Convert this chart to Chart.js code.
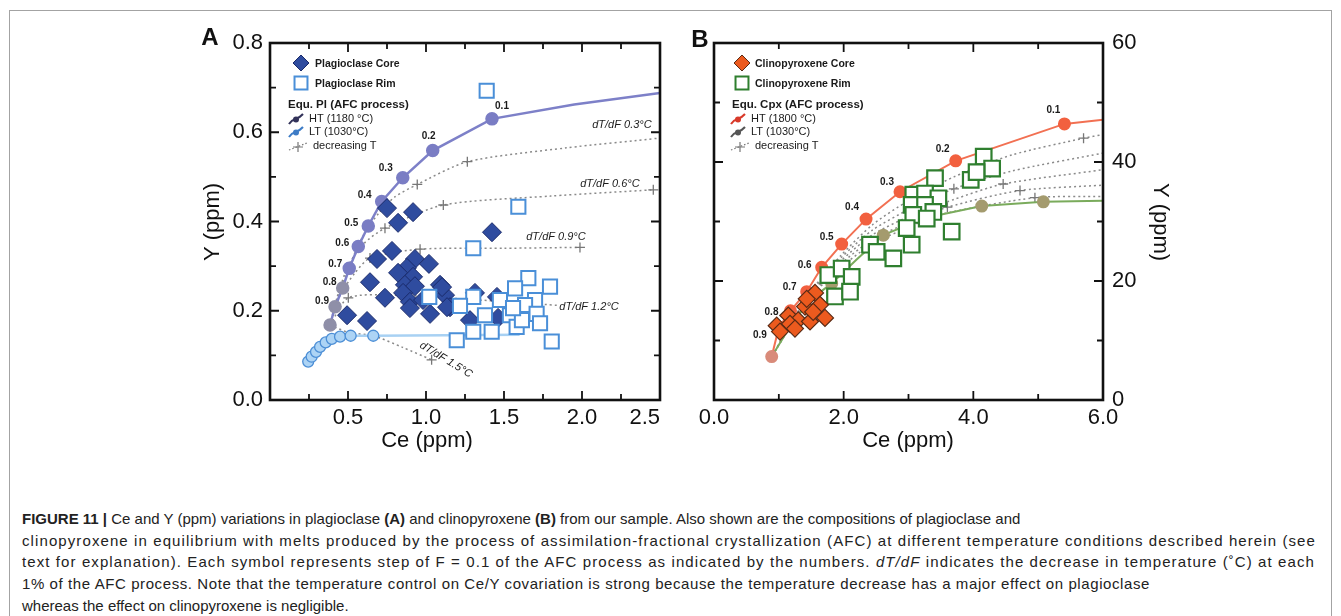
<!DOCTYPE html>
<html>
<head>
<meta charset="utf-8">
<script src="https://cdn.jsdelivr.net/npm/chart.js@4.4.0/dist/chart.umd.min.js"></script>
<style>
    body { margin: 0; background: #fff; width: 1341px; height: 616px; overflow: hidden; position: relative; font-family: "Liberation Sans", Arial, sans-serif; }
    #frame { position: absolute; left: 9px; top: 10px; width: 1321px; height: 640px; border: 1px solid #a3a3a3; }
    #chartA { position: absolute; left: 190px; top: 20px; }
    #chartB { position: absolute; left: 690px; top: 20px; }
    #caption { position: absolute; left: 22px; top: 508px; font-size: 15px; line-height: 21.7px; color: #222; white-space: nowrap; }
    #caption span { display: inline-block; }
</style>
</head>
<body>
<div id="frame"></div>
<canvas id="chartA" width="490" height="440"></canvas>
<canvas id="chartB" width="500" height="440"></canvas>
<div id="caption">
    <span><b>FIGURE 11 |</b> Ce and Y (ppm) variations in plagioclase <b>(A)</b> and clinopyroxene <b>(B)</b> from our sample. Also shown are the compositions of plagioclase and</span><br>
    <span data-w="1294">clinopyroxene in equilibrium with melts produced by the process of assimilation-fractional crystallization (AFC) at different temperature conditions described herein (see</span><br>
    <span data-w="1293">text for explanation). Each symbol represents step of F = 0.1 of the AFC process as indicated by the numbers. <i>dT/dF</i> indicates the decrease in temperature (˚C) at each</span><br>
    <span data-w="1128">1% of the AFC process. Note that the temperature control on Ce/Y covariation is strong because the temperature decrease has a major effect on plagioclase</span><br>
    <span>whereas the effect on clinopyroxene is negligible.</span>
</div>
<script>
// ---------- panel A : plagioclase (Ce, Y) ----------
const plCore = [
    [0.750, 0.430], [0.917, 0.421], [0.821, 0.397], [0.686, 0.316], [0.782, 0.334],
    [0.929, 0.316], [1.019, 0.305], [0.878, 0.296], [0.641, 0.264], [0.821, 0.285],
    [0.917, 0.276], [0.865, 0.258], [0.929, 0.255], [1.090, 0.258], [0.853, 0.240],
    [1.122, 0.235], [0.737, 0.229], [0.897, 0.220], [0.897, 0.206], [1.026, 0.193],
    [0.494, 0.190], [0.622, 0.177], [1.154, 0.208], [1.423, 0.376], [1.103, 0.253],
    [1.135, 0.208], [1.314, 0.240], [1.282, 0.179], [1.455, 0.231], [1.462, 0.184],
    [0.981, 0.224]
];
const plRim = [
    [1.389, 0.693], [1.592, 0.433], [1.303, 0.340], [1.656, 0.273], [1.795, 0.254],
    [1.571, 0.250], [1.303, 0.231], [1.474, 0.224], [1.699, 0.224], [1.218, 0.211],
    [1.635, 0.213], [1.378, 0.190], [1.538, 0.190], [1.709, 0.193], [1.581, 0.164],
    [1.731, 0.172], [1.303, 0.153], [1.421, 0.153], [1.197, 0.134], [1.806, 0.131],
    [1.021, 0.231], [1.615, 0.179], [1.558, 0.206]
];
// equilibrium melt, F = 1.0 ... 0.1 then on to the axis end
const plHT = [
    [0.385, 0.168], [0.417, 0.209], [0.466, 0.251], [0.508, 0.295], [0.566, 0.344],
    [0.630, 0.390], [0.716, 0.445], [0.851, 0.498], [1.043, 0.559], [1.423, 0.630],
    [1.950, 0.662], [2.500, 0.688]
];
const plLT = [
    [0.245, 0.086], [0.267, 0.097], [0.295, 0.108], [0.321, 0.119], [0.357, 0.129],
    [0.396, 0.137], [0.449, 0.142], [0.517, 0.144], [0.662, 0.144], [1.600, 0.146]
];
const plDec03 = [[0.385, 0.168], [0.44, 0.235], [0.52, 0.31], [0.60, 0.37], [0.70, 0.42], [0.80, 0.455], [0.944, 0.483], [1.265, 0.534], [1.90, 0.565], [2.50, 0.587]];
const plDec06 = [[0.385, 0.168], [0.43, 0.23], [0.50, 0.30], [0.60, 0.35], [0.737, 0.385], [1.111, 0.437], [1.80, 0.457], [2.457, 0.471]];
const plDec09 = [[0.385, 0.168], [0.45, 0.235], [0.545, 0.285], [0.641, 0.318], [0.962, 0.338], [1.50, 0.340], [1.987, 0.342]];
const plDec12 = [[0.385, 0.168], [0.502, 0.229], [0.80, 0.235], [1.30, 0.225], [1.85, 0.212]];
const plDec15 = [[0.385, 0.168], [0.50, 0.152], [0.662, 0.144], [0.85, 0.118], [1.036, 0.090]];
const plDecLabels = ['0.3°C', '0.6°C', '0.9°C', '1.2°C', '1.5°C'];
const plDecLabelAt = [[2.256, 0.616], [2.179, 0.484], [1.833, 0.365], [2.045, 0.208], [1.128, 0.090]];

// ---------- panel B : clinopyroxene (Ce, Y) ----------
const cpxCore = [
    [1.558, 18.0], [1.404, 15.7], [1.635, 16.0], [1.146, 14.2], [1.300, 13.4],
    [1.712, 13.8], [0.967, 12.5], [1.172, 12.8], [1.481, 13.2], [1.018, 11.5],
    [1.249, 12.0], [1.43, 17.0], [1.53, 14.8]
];
const cpxRim = [
    [3.409, 37.3], [3.074, 34.5], [3.255, 34.7], [3.461, 33.9], [3.049, 32.8],
    [3.255, 32.8], [3.383, 31.6], [3.074, 31.1], [3.281, 30.5], [2.972, 28.9],
    [3.049, 26.1], [3.666, 28.3], [2.406, 26.1], [2.509, 24.9], [2.766, 23.8],
    [1.763, 21.0], [1.969, 22.1], [2.124, 20.7], [1.866, 17.4], [2.098, 18.2],
    [4.16, 40.9], [4.29, 38.9], [3.96, 37.0], [4.05, 38.3]
];
const cpxHT = [
    [0.890, 7.3], [1.000, 12.2], [1.180, 15.0], [1.430, 18.2], [1.661, 22.3],
    [1.969, 26.2], [2.345, 30.4], [2.869, 35.0], [3.728, 40.2], [5.405, 46.4],
    [6.000, 47.1]
];
const cpxLT = [
    [0.89, 7.3], [1.20, 12.8], [1.50, 17.0], [1.815, 19.6], [2.20, 23.6],
    [2.612, 27.7], [3.25, 30.6], [4.13, 32.6], [5.08, 33.3], [6.00, 33.5]
];
const cpxDec1 = [[0.9, 7.5], [1.45, 17.6], [1.95, 24.2], [2.45, 29.5], [3.0, 33.5], [3.7, 37.5], [4.6, 41.2], [5.7, 44.0], [6.0, 44.6]];
const cpxDec2 = [[0.9, 7.5], [1.45, 17.4], [1.95, 23.8], [2.45, 28.6], [3.0, 32.0], [3.7, 35.5], [4.6, 38.5], [6.0, 41.5]];
const cpxDec3 = [[0.9, 7.5], [1.45, 17.2], [1.95, 23.3], [2.45, 27.8], [3.0, 30.8], [3.7, 33.7], [4.46, 36.3], [6.0, 38.7]];
const cpxDec4 = [[0.9, 7.5], [1.45, 17.0], [1.95, 22.8], [2.45, 27.0], [3.0, 29.8], [3.6, 32.4], [4.72, 35.2], [6.0, 36.1]];
const cpxDec5 = [[0.9, 7.5], [1.45, 16.8], [1.95, 22.2], [2.45, 26.3], [3.0, 29.0], [3.5, 31.2], [4.95, 34.0], [6.0, 34.2]];

const fSteps = ['0.9', '0.8', '0.7', '0.6', '0.5', '0.4', '0.3', '0.2', '0.1'];

// stretch caption lines to the widths they have in the figure
document.querySelectorAll('#caption span[data-w]').forEach(el => {
    let target = Number(el.dataset.w);
    let extra = target - el.getBoundingClientRect().width;
    el.style.letterSpacing = (extra / el.textContent.length) + 'px';
});

function pts(arr) {
    return arr.map(p => ({ x: p[0], y: p[1] }));
}

function dottedSet(arr, crossAt) {
    return {
        data: pts(arr),
        showLine: true,
        borderColor: '#8a8a8a',
        borderWidth: 1.5,
        borderDash: [2, 3],
        tension: 0.25,
        pointStyle: 'cross',
        pointRadius: arr.map((p, i) => crossAt.includes(i) ? 5 : 0),
        pointBorderColor: '#777',
        pointBorderWidth: 1.3,
        order: 20
    };
}

// frame and inward ticks on all four sides
const framePlugin = {
    id: 'frame',
    afterDraw(chart, args, opts) {
        const { ctx, chartArea: a, scales } = chart;
        const x = scales.x, y = scales.y;
        ctx.save();
        ctx.strokeStyle = '#111';
        ctx.lineWidth = 1.8;
        ctx.beginPath();
        for (let v = x.min + opts.xStep; v < x.max - 1e-6; v += opts.xStep) {
            let big = Math.abs(v / opts.xMajor - Math.round(v / opts.xMajor)) < 1e-6;
            let len = big ? 9 : 6;
            let px = x.getPixelForValue(v);
            ctx.moveTo(px, a.bottom); ctx.lineTo(px, a.bottom - len);
            ctx.moveTo(px, a.top); ctx.lineTo(px, a.top + len);
        }
        for (let v = y.min + opts.yStep; v < y.max - 1e-6; v += opts.yStep) {
            let big = Math.abs(v / opts.yMajor - Math.round(v / opts.yMajor)) < 1e-6;
            let len = big ? 9 : 6;
            let py = y.getPixelForValue(v);
            ctx.moveTo(a.left, py); ctx.lineTo(a.left + len, py);
            ctx.moveTo(a.right, py); ctx.lineTo(a.right - len, py);
        }
        ctx.stroke();
        ctx.lineWidth = 2.6;
        ctx.strokeRect(a.left, a.top, a.right - a.left, a.bottom - a.top);
        ctx.restore();
    }
};

// F step numbers, dT/dF notes, legend, axis titles, panel letter
const notesPlugin = {
    id: 'notes',
    afterDraw(chart, args, o) {
        const { ctx, chartArea: a, scales } = chart;
        ctx.save();
        ctx.fillStyle = '#1a1a1a';
        ctx.textBaseline = 'middle';
        ctx.textAlign = 'center';

        // step numbers next to the HT curve
        ctx.font = 'bold 10px "Liberation Sans", Arial';
        let meta = chart.getDatasetMeta(o.htIndex);
        o.steps.forEach((s, i) => {
            let el = meta.data[i + 1];
            ctx.fillText(s, el.x + o.stepOff[i][0], el.y + o.stepOff[i][1]);
        });

        // dT/dF notes
        ctx.font = 'italic 11px "Liberation Sans", Arial';
        (o.decText || []).forEach((t, i) => {
            let px = scales.x.getPixelForValue(o.decAt[i][0]);
            let py = scales.y.getPixelForValue(o.decAt[i][1]);
            ctx.save();
            ctx.translate(px, py);
            if (i === 4) ctx.rotate(0.55);
            ctx.fillText('dT/dF ' + t, 0, 0);
            ctx.restore();
        });

        // legend
        let L = o.legend;
        let lx = a.left, ly = a.top;
        ctx.textAlign = 'left';
        drawMarker(ctx, 'rectRot', lx + L.mx, ly + 20, 8, L.coreFill, L.coreEdge, 1);
        drawMarker(ctx, 'rect', lx + L.mx, ly + 40, 9, '#fff', L.rimEdge, 2);
        ctx.fillStyle = '#1a1a1a';
        ctx.font = 'bold 10.5px "Liberation Sans", Arial';
        ctx.fillText(L.core, lx + L.tx, ly + 21);
        ctx.fillText(L.rim, lx + L.tx, ly + 41);
        ctx.font = 'bold 11.5px "Liberation Sans", Arial';
        ctx.fillText(L.head, lx + 18, ly + 62);
        ctx.font = '11px "Liberation Sans", Arial';
        ctx.fillText(L.ht, lx + L.gx + 12, ly + 76);
        ctx.fillText(L.lt, lx + L.gx + 12, ly + 89);
        ctx.fillText('decreasing T', lx + L.gx + 16, ly + 103);
        glyph(ctx, lx + L.gx, ly + 76, L.htColor);
        glyph(ctx, lx + L.gx, ly + 89, L.ltColor);
        ctx.strokeStyle = '#777';
        ctx.lineWidth = 1.2;
        ctx.setLineDash([1.5, 2]);
        ctx.beginPath();
        ctx.moveTo(lx + L.gx - 8, ly + 107); ctx.lineTo(lx + L.gx + 10, ly + 100);
        ctx.stroke();
        ctx.setLineDash([]);
        ctx.beginPath();
        ctx.moveTo(lx + L.gx + 1, ly + 99); ctx.lineTo(lx + L.gx + 1, ly + 109);
        ctx.moveTo(lx + L.gx - 4, ly + 104); ctx.lineTo(lx + L.gx + 6, ly + 104);
        ctx.stroke();

        // axis titles and panel letter
        ctx.fillStyle = '#111';
        ctx.textAlign = 'center';
        ctx.font = '22px "Liberation Sans", Arial';
        ctx.fillText('Ce (ppm)', o.xTitle[0], o.xTitle[1]);
        ctx.save();
        ctx.translate(o.yTitle[0], o.yTitle[1]);
        ctx.rotate(o.yTitle[2]);
        ctx.fillText('Y (ppm)', 0, 0);
        ctx.restore();
        ctx.font = 'bold 24px "Liberation Sans", Arial';
        ctx.fillText(o.letter, o.letterAt[0], o.letterAt[1]);
        ctx.restore();
    }
};

function drawMarker(ctx, style, x, y, r, fill, edge, w) {
    ctx.save();
    ctx.fillStyle = fill; ctx.strokeStyle = edge; ctx.lineWidth = w;
    ctx.beginPath();
    if (style === 'rectRot') {
        ctx.moveTo(x - r, y); ctx.lineTo(x, y - r); ctx.lineTo(x + r, y); ctx.lineTo(x, y + r);
    } else {
        let s = r * 0.72;
        ctx.rect(x - s, y - s, 2 * s, 2 * s);
    }
    ctx.closePath();
    ctx.fill(); ctx.stroke();
    ctx.restore();
}

function glyph(ctx, x, y, color) {
    ctx.save();
    ctx.strokeStyle = color;
    ctx.fillStyle = color;
    ctx.lineWidth = 2;
    ctx.beginPath();
    ctx.moveTo(x - 8, y + 5);
    ctx.bezierCurveTo(x - 4, y - 2, x, y + 2, x + 6, y - 5);
    ctx.stroke();
    ctx.beginPath();
    ctx.arc(x - 1, y + 0.5, 3, 0, Math.PI * 2);
    ctx.fill();
    ctx.restore();
}

function baseOptions(xMax, xStep, yMax, yStep, yPos, xFmt, yFmt) {
    return {
        responsive: false,
        animation: false,
        events: [],
        devicePixelRatio: 1,
        plugins: { legend: { display: false }, tooltip: { enabled: false } },
        scales: {
            x: {
                type: 'linear', min: 0, max: xMax,
                grid: { display: false, drawTicks: false },
                border: { display: false },
                ticks: { stepSize: xStep, padding: 5, color: '#111', font: { size: 22, family: '"Liberation Sans", Arial' }, callback: xFmt },
                afterFit(s) { s.height = 60; }
            },
            y: {
                type: 'linear', min: 0, max: yMax, position: yPos,
                grid: { display: false, drawTicks: false },
                border: { display: false },
                ticks: { stepSize: yStep, padding: yPos === 'left' ? 7 : 9, color: '#111', font: { size: 22, family: '"Liberation Sans", Arial' }, callback: yFmt },
                afterFit(s) { s.width = yPos === 'left' ? 80 : 87; }
            }
        }
    };
}

function createPanelA() {
    let optA = baseOptions(2.5, 0.5, 0.8, 0.2, 'left',
        v => v === 0 ? '' : v.toFixed(1),
        v => v.toFixed(1));
    optA.scales.x.ticks.align = 'inner';
    optA.layout = { padding: { top: 23, right: 20, left: 0, bottom: 0 } };
    optA.plugins.frame = { xStep: 0.25, xMajor: 0.5, yStep: 0.1, yMajor: 0.2 };
    optA.plugins.notes = {
        htIndex: 2,
        steps: fSteps,
        stepOff: [[-13, -5], [-13, -6], [-14, -4], [-16, -3], [-17, -3], [-17, -6], [-17, -10], [-4, -14], [10, -13]],
        decText: plDecLabels,
        decAt: plDecLabelAt,
        legend: {
            mx: 31, tx: 45, gx: 27, core: 'Plagioclase Core', rim: 'Plagioclase Rim',
            head: 'Equ. Pl (AFC process)', ht: 'HT (1180 °C)', lt: 'LT (1030°C)',
            coreFill: '#2f4c9f', coreEdge: '#1a2a6a', rimEdge: '#4a8fd8',
            htColor: '#33335a', ltColor: '#3d7cc6'
        },
        xTitle: [237, 421], yTitle: [23, 202, -Math.PI / 2],
        letter: 'A', letterAt: [20, 18]
    };

    const htColors = plHT.map((p, i) => i < 3 ? '#8f8fa8' : '#7a7dc4');
    new Chart(document.getElementById('chartA'), {
        type: 'scatter',
        data: {
            datasets: [
                {   // rims on top
                    data: pts(plRim), pointStyle: 'rect', pointRadius: 10,
                    pointBackgroundColor: '#ffffff', pointBorderColor: '#4a8fd8', pointBorderWidth: 2, order: 1
                },
                {
                    data: pts(plCore), pointStyle: 'rectRot', pointRadius: 9.5,
                    pointBackgroundColor: '#2f4c9f', pointBorderColor: '#1a2a6a', pointBorderWidth: 1, order: 2
                },
                {
                    data: pts(plHT), showLine: true, borderColor: '#7d80c8', borderWidth: 2.5,
                    pointRadius: plHT.map((p, i) => i < 10 ? 5.5 : 0),
                    pointBackgroundColor: htColors, pointBorderColor: htColors, order: 5
                },
                {
                    data: pts(plLT), showLine: true, borderColor: '#a8d1f3', borderWidth: 2.5,
                    pointRadius: plLT.map((p, i) => i < 9 ? 5.5 : 0),
                    pointBackgroundColor: '#add4f5', pointBorderColor: '#4d8fd6', pointBorderWidth: 1.3, order: 6
                },
                dottedSet(plDec03, [6, 7]),
                dottedSet(plDec06, [4, 5, 7]),
                dottedSet(plDec09, [3, 4, 6]),
                dottedSet(plDec12, [1]),
                dottedSet(plDec15, [4])
            ]
        },
        options: optA,
        plugins: [framePlugin, notesPlugin]
    });
}

function createPanelB() {
    let optB = baseOptions(6, 2, 60, 20, 'right',
        v => v.toFixed(1),
        v => String(v));
    optB.layout = { padding: { top: 23, right: 0, left: 24, bottom: 0 } };
    optB.plugins.frame = { xStep: 1, xMajor: 2, yStep: 10, yMajor: 20 };
    optB.plugins.notes = {
        htIndex: 2,
        steps: fSteps,
        stepOff: [[-19, 8], [-19, 1], [-17, -4], [-17, -2], [-15, -7], [-14, -12], [-13, -10], [-13, -12], [-11, -14]],
        legend: {
            mx: 28, tx: 41, gx: 25, core: 'Clinopyroxene Core', rim: 'Clinopyroxene Rim',
            head: 'Equ. Cpx (AFC process)', ht: 'HT (1800 °C)', lt: 'LT (1030°C)',
            coreFill: '#ec5a1e', coreEdge: '#5a2a14', rimEdge: '#2f7f2f',
            htColor: '#d83a2a', ltColor: '#555555'
        },
        xTitle: [218, 421], yTitle: [470, 202, Math.PI / 2],
        letter: 'B', letterAt: [10, 20]
    };

    const htColors = cpxHT.map((p, i) => i === 0 ? '#d98b7a' : '#f2603f');
    new Chart(document.getElementById('chartB'), {
        type: 'scatter',
        data: {
            datasets: [
                {
                    data: pts(cpxCore), pointStyle: 'rectRot', pointRadius: 8.5,
                    pointBackgroundColor: '#ec5a1e', pointBorderColor: '#5a2a14', pointBorderWidth: 1.2, order: 1
                },
                {
                    data: pts(cpxRim), pointStyle: 'rect', pointRadius: 11,
                    pointBackgroundColor: '#ffffff', pointBorderColor: '#2f7f2f', pointBorderWidth: 2.2, order: 2
                },
                {
                    data: pts(cpxHT), showLine: true, borderColor: '#f27052', borderWidth: 2,
                    pointRadius: cpxHT.map((p, i) => i < 10 ? 5.5 : 0),
                    pointBackgroundColor: htColors, pointBorderColor: htColors, order: 5
                },
                {
                    data: pts(cpxLT), showLine: true, borderColor: '#7aab5c', borderWidth: 2,
                    pointRadius: cpxLT.map((p, i) => [3, 5, 7, 8].includes(i) ? 5.5 : 0),
                    pointBackgroundColor: '#a49b6e', pointBorderColor: '#a49b6e', order: 6
                },
                dottedSet(cpxDec1, [7]),
                dottedSet(cpxDec2, [5]),
                dottedSet(cpxDec3, [6]),
                dottedSet(cpxDec4, [5, 6]),
                dottedSet(cpxDec5, [6])
            ]
        },
        options: optB,
        plugins: [framePlugin, notesPlugin]
    });
}

createPanelA();
createPanelB();
</script>
</body>
</html>
